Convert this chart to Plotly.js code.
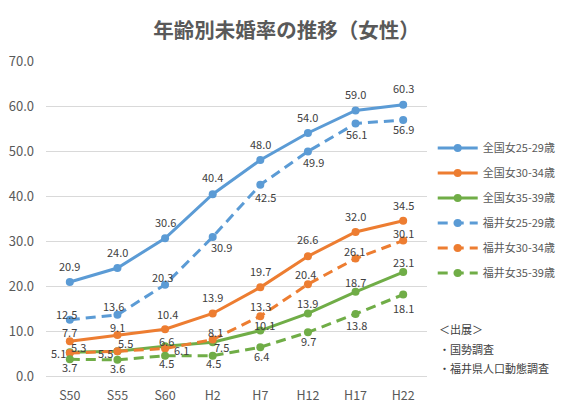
<!DOCTYPE html>
<html><head><meta charset="utf-8">
<script src="https://cdn.plot.ly/plotly-3.0.1.min.js"></script>
<style>html,body{margin:0;padding:0;background:#fff;}#chart{width:573px;height:412px;}</style>
</head><body><div id="chart"></div>
<script>
const categories = ['S50','S55','S60','H2','H7','H12','H17','H22'];
const zenkoku2529 = [20.9, 24.0, 30.6, 40.4, 48.0, 54.0, 59.0, 60.3];
const zenkoku3034 = [7.7, 9.1, 10.4, 13.9, 19.7, 26.6, 32.0, 34.5];
const zenkoku3539 = [5.3, 5.5, 6.6, 7.5, 10.1, 13.9, 18.7, 23.1];
const fukui2529 = [12.5, 13.6, 20.3, 30.9, 42.5, 49.9, 56.1, 56.9];
const fukui3034 = [5.1, 5.5, 6.1, 8.1, 13.3, 20.4, 26.1, 30.1];
const fukui3539 = [3.7, 3.6, 4.5, 4.5, 6.4, 9.7, 13.8, 18.1];
const seriesNames = ['全国女25-29歳','全国女30-34歳','全国女35-39歳','福井女25-29歳','福井女30-34歳','福井女35-39歳'];
const sourceLines = ['＜出展＞','・国勢調査','・福井県人口動態調査'];

// label offsets in pixels [dx, dy(down)] — styling only
const offZ2529 = [[0,-16],[0,-16],[0,-16],[0,-17],[0,-16],[0,-16],[0,-17],[0,-17]];
const offZ3034 = [[0,-9],[0,-8],[2,-15],[0,-16],[0,-16],[0,-17],[0,-16],[0,-16]];
const offZ3539 = [[9,-5],[8,-8],[1,-5],[9,5],[4,-6],[0,-10],[0,-10],[0,-10]];
const offF2529 = [[-3,-6],[-4,-9],[-3,-8],[9,10],[5,12],[6,11],[1,10],[0,9]];
const offF3034 = [[-11,0],[-12,2],[16,1],[3,-8],[0,-10],[-2,-10],[-1,-8],[0,-8]];
const offF3539 = [[0,8],[0,8],[1,7],[1,7],[1,9],[1,9],[1,11],[0,13]];

const BLUE='#5B9BD5', ORANGE='#ED7D31', GREEN='#70AD47';
const FONT='"Noto Sans CJK JP", "Noto Sans", sans-serif';

const seriesVals = [zenkoku2529, zenkoku3034, zenkoku3539, fukui2529, fukui3034, fukui3539];
const seriesOff = [offZ2529, offZ3034, offZ3539, offF2529, offF3034, offF3539];
const colors = [BLUE, ORANGE, GREEN, BLUE, ORANGE, GREEN];
const dashed = [false, false, false, true, true, true];

const data = seriesVals.map((y,i)=>({
  x: categories, y: y, name: seriesNames[i], type:'scatter', mode:'lines+markers',
  line:{color:colors[i], width:3, dash: dashed[i] ? '10px,6px' : 'solid'},
  marker:{color:colors[i], size:8},
  legendgroup:'g'+i, cliponaxis:false, hoverinfo:'skip'
}));

const annotations = [];
seriesVals.forEach((y,i)=>{
  y.forEach((v,j)=>{
    annotations.push({
      x: categories[j], y: v, xref:'x', yref:'y', text: v.toFixed(1), showarrow:false,
      xanchor:'center', yanchor:'middle', borderpad:0,
      xshift: seriesOff[i][j][0], yshift: -seriesOff[i][j][1],
      font:{size:11, color:'#404040', family:FONT}
    });
  });
});

const plotTop=60.5, plotBottom=376, plotH=plotBottom-plotTop;
const ys=[329,349,368];
sourceLines.forEach((t,i)=>annotations.push({
  xref:'paper', yref:'paper', x:(441-46)/385, y:(plotBottom-ys[i])/plotH,
  xanchor:'left', yanchor:'middle', showarrow:false, text:t,
  font:{size:11, color:'#404040', family:FONT}
}));

const layout = {
  width:573, height:412,
  margin:{l:46, r:142, t:60.5, b:36},
  paper_bgcolor:'#fff', plot_bgcolor:'#fff',
  font:{family:FONT, color:'#595959'},
  title:{text:'年齢別未婚率の推移（女性）', x:280.5, xref:'container', xanchor:'center', y:390, yref:'container', yanchor:'middle',
    font:{size:20.5, color:'#595959', family:FONT, weight:'bold'}},
  showlegend:true,
  legend:{x:1.015, y:(plotBottom-133)/plotH, xanchor:'left', yanchor:'top',
    font:{size:11, color:'#595959', family:FONT}, tracegroupgap:6, traceorder:'grouped', itemwidth:40},
  xaxis:{type:'category', range:[-0.5,7.5], showgrid:false, showline:false, zeroline:false,
    tickfont:{size:12.5, color:'#595959'}, ticks:'', ticklabelstandoff:10},
  yaxis:{range:[0,70], dtick:10, tick0:0, tickformat:'.1f', gridcolor:'#d9d9d9', gridwidth:1,
    zeroline:true, zerolinecolor:'#d9d9d9', zerolinewidth:1, showline:false,
    tickfont:{size:13, color:'#595959'}, ticks:'', ticklabelstandoff:11},
  annotations: annotations
};
Plotly.newPlot('chart', data, layout, {displayModeBar:false, staticPlot:true});
</script>
</body></html>
